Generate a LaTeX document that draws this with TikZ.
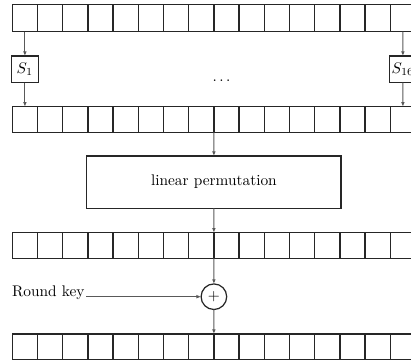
\documentclass[tikz,border=0pt]{standalone}
\usetikzlibrary{arrows.meta}
\begin{document}
\begin{tikzpicture}[x=0.65pt,y=-0.65pt,
  cell/.style={draw=black!85,line width=0.9pt,minimum width=25.2*0.65pt,minimum height=#1*0.65pt,inner sep=0pt,outer sep=0pt},
  sbox/.style={draw=black!85,line width=0.9pt,minimum width=26.7*0.65pt,minimum height=26.7*0.65pt,inner sep=0pt,outer sep=0pt},
  lpbox/.style={draw=black!85,line width=0.9pt,minimum width=254.4*0.65pt,minimum height=52.3*0.65pt,inner sep=0pt,outer sep=0pt},
  xorn/.style={circle,draw=black!85,line width=0.8pt,minimum size=25.6*0.65pt,inner sep=0pt,outer sep=0pt},
  arr/.style={draw=black!65,line width=0.6pt,-{Latex[length=3pt,width=2.4pt]}}]
\useasboundingbox (0,0) rectangle (411,362);
\clip (0,0) rectangle (411,362);
\foreach \i in {1,...,16} {
  \node[cell=27] (ra\i) at ({12.3+25.2*(\i-0.5)},18.2) {};
  \node[cell=25.6] (rb\i) at ({12.3+25.2*(\i-0.5)},119.5) {};
  \node[cell=25.6] (rc\i) at ({12.3+25.2*(\i-0.5)},245.5) {};
  \node[cell=25.5] (rd\i) at ({12.3+25.2*(\i-0.5)},346.75) {};
}
\node[sbox] (s1) at (24.9,69.35) {$S_1$};
\node[sbox] (s16) at (402.9,69.35) {$S_{16}$};
\node[anchor=base,inner sep=0pt] (dots) at (221.5,81) {$\ldots$};
\node[lpbox] (lp) at (213.9,182.15) {linear permutation};
\node[xorn] (xor) at (213.9,296.7) {$+$};
\node[anchor=base west,inner sep=1pt] (key) at (10.2,296.7) {Round key};
\draw[arr] (ra1.south) -- (s1.north);
\draw[arr] (s1.south) -- (rb1.north);
\draw[arr] (ra16.south) -- (s16.north);
\draw[arr] (s16.south) -- (rb16.north);
\draw[arr] (rb8.south east) -- (lp.north);
\draw[arr] (lp.south) -- (rc8.north east);
\draw[arr] (rc8.south east) -- (xor.north);
\draw[arr] (xor.south) -- (rd8.north east);
\draw[arr] (key.base east) -- (xor.west);
\end{tikzpicture}
\end{document}
